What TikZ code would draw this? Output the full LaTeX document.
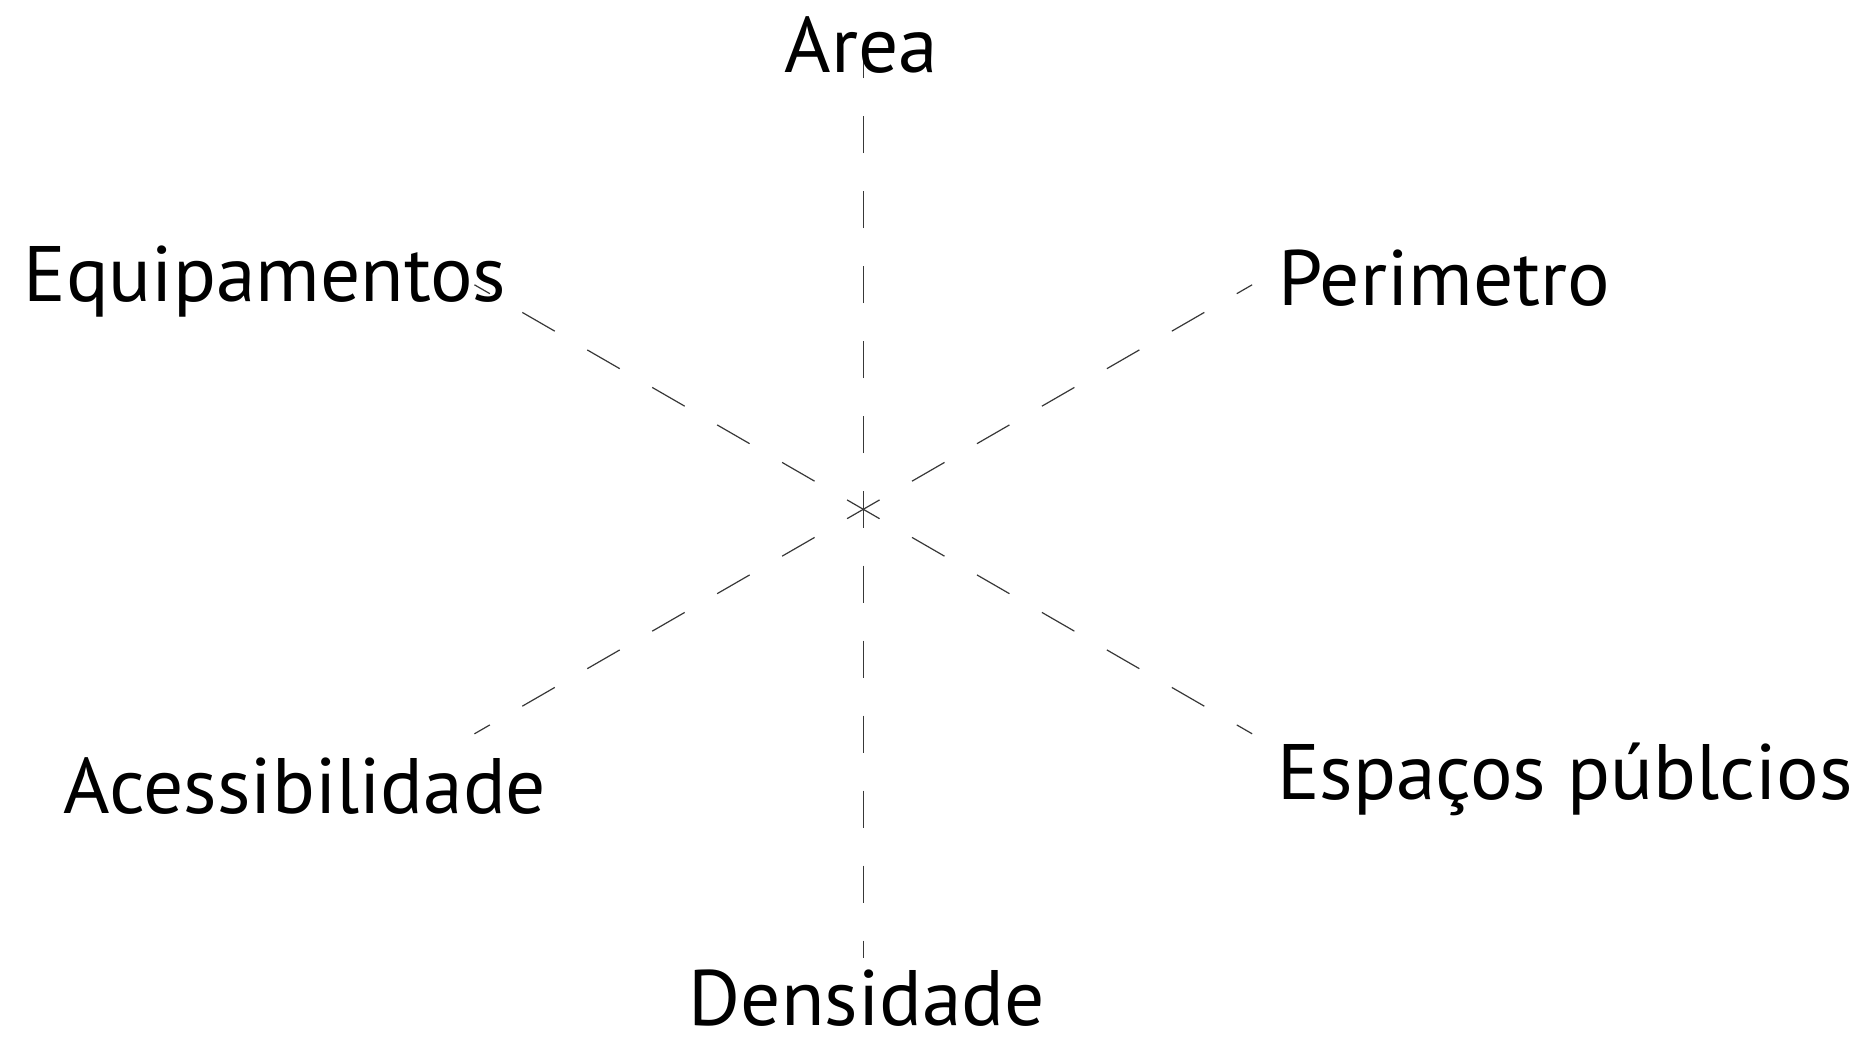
\documentclass[tikz,border=0pt]{standalone}
\usepackage{fontspec}
\newfontfamily\lblfont{PT Sans}[FakeStretch=1.012]
\tikzset{
  ray/.style={draw=black!78, line width=0.6pt, dash pattern=on 18.75pt off 18.75pt, dash phase=9.375pt},
  lbl/.style={inner sep=0pt, outer sep=0pt, anchor=base, font=\lblfont\fontsize{39.3pt}{40pt}\selectfont}
}
\begin{document}
\begin{tikzpicture}[x=0.5pt,y=-0.5pt]
\useasboundingbox[fill=white] (0,0) rectangle (1863,1037);
\coordinate (c) at (863.3,509.3);
\coordinate (eU) at (863.3,60.3);
\coordinate (eD) at (863.3,958.3);
\coordinate (eUL) at (474.46,284.8);
\coordinate (eUR) at (1252.14,284.8);
\coordinate (eDL) at (474.46,733.8);
\coordinate (eDR) at (1252.14,733.8);
\draw[ray] (c) -- (eU);
\draw[ray] (c) -- (eD);
\draw[ray] (c) -- (eUL);
\draw[ray] (c) -- (eUR);
\draw[ray] (c) -- (eDL);
\draw[ray] (c) -- (eDR);
\node[lbl] (area) at (861.5,73) {Area};
\node[lbl] (equip) at (265,302) {Equipamentos};
\node[lbl] (perim) at (1444,306) {Perimetro};
\node[lbl] (espac) at (1565,799) {Espaços públcios};
\node[lbl] (acess) at (305,813) {Acessibilidade};
\node[lbl] (dens) at (867,1025.7) {Densidade};
\end{tikzpicture}
\end{document}
